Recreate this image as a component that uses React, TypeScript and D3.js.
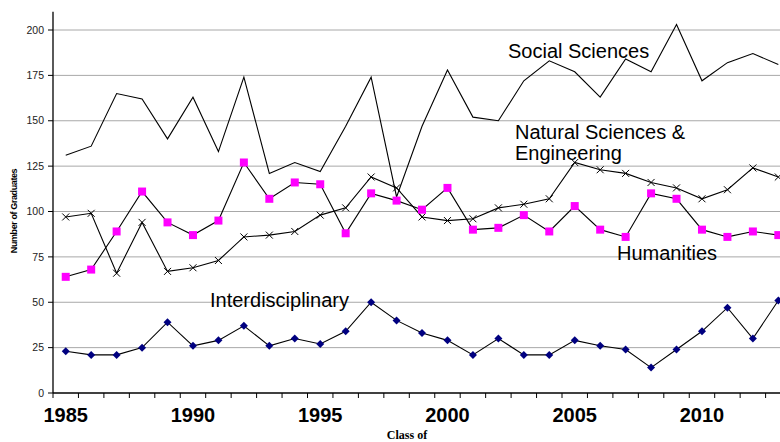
import React from "react";
import * as d3 from "d3";

const years = d3.range(1985, 2014);
const socialSciences = [131, 136, 165, 162, 140, 163, 133, 174, 121, 127, 122, 147, 174, 108, 147, 178, 152, 150, 172, 183, 177, 163, 184, 177, 203, 172, 182, 187, 181];
const naturalSciences = [97, 99, 66, 94, 67, 69, 73, 86, 87, 89, 98, 102, 119, 113, 97, 95, 96, 102, 104, 107, 127, 123, 121, 116, 113, 107, 112, 124, 119];
const humanities = [64, 68, 89, 111, 94, 87, 95, 127, 107, 116, 115, 88, 110, 106, 101, 113, 90, 91, 98, 89, 103, 90, 86, 110, 107, 90, 86, 89, 87];
const interdisciplinary = [23, 21, 21, 25, 39, 26, 29, 37, 26, 30, 27, 34, 50, 40, 33, 29, 21, 30, 21, 21, 29, 26, 24, 14, 24, 34, 47, 30, 51];
const yTicks = [0, 25, 50, 75, 100, 125, 150, 175, 200];
const xLabels = [1985, 1990, 1995, 2000, 2005, 2010];

const W = 780, H = 442;
const left = 53, bottom = 393;
const bw = 25.45;

export default function App() {
  const x = d3.scaleBand<number>().domain(years).range([left, left + years.length * bw]).padding(0);
  const y = d3.scaleLinear().domain([0, 210]).range([bottom, bottom - 210 * 1.815]);
  const cx = (yr: number) => (x(yr) as number) + x.bandwidth() / 2;
  const line = (vals: number[]) =>
    d3.line<number>().x((_, i) => cx(years[i])).y((v) => y(v))(vals) || "";
  const font = "'Liberation Sans', Arial, sans-serif";

  return (
    <svg width={W} height={H} style={{ position: "absolute", left: 0, top: 0 }}>
      <rect width={W} height={H} fill="#fff" />
      {yTicks.filter((t) => t > 0).map((t) => (
        <line key={t} x1={left} x2={W} y1={y(t)} y2={y(t)} stroke="#a8a8a8" strokeWidth={1} />
      ))}
      {/* y axis */}
      <line x1={left} x2={left} y1={y(210)} y2={bottom} stroke="#000" strokeWidth={1.3} />
      {yTicks.map((t) => (
        <g key={t}>
          <line x1={left - 5} x2={left} y1={y(t)} y2={y(t)} stroke="#000" />
          <text x={44} y={y(t)} dy="0.35em" textAnchor="end" fontFamily={font} fontSize={10.5} fill="#222">
            {t}
          </text>
        </g>
      ))}
      {/* x axis */}
      <line x1={left} x2={W} y1={bottom} y2={bottom} stroke="#000" strokeWidth={1.3} />
      {years.map((yr) => (
        <line key={yr} x1={x(yr) as number} x2={x(yr) as number} y1={bottom} y2={bottom + 5} stroke="#000" />
      ))}
      {xLabels.map((yr) => (
        <text key={yr} x={cx(yr)} y={422} textAnchor="middle" fontFamily={font} fontWeight="bold" fontSize={20} fill="#000">
          {yr}
        </text>
      ))}
      <text x={407} y={439} textAnchor="middle" fontFamily="'Liberation Serif', 'Times New Roman', serif" fontWeight="bold" fontSize={12}>
        Class of
      </text>
      <text transform="translate(17,211) rotate(-90)" textAnchor="middle" fontFamily={font} fontWeight="bold" fontSize={9} letterSpacing={-0.4}>
        Number of Graduates
      </text>

      {/* series lines */}
      <path d={line(socialSciences)} fill="none" stroke="#000" strokeWidth={1.1} />
      <path d={line(naturalSciences)} fill="none" stroke="#000" strokeWidth={1.1} />
      <path d={line(humanities)} fill="none" stroke="#000" strokeWidth={1.1} />
      <path d={line(interdisciplinary)} fill="none" stroke="#000" strokeWidth={1.1} />

      {naturalSciences.map((v, i) => {
        const px = cx(years[i]), py = y(v), s = 3.5;
        return (
          <path key={i} d={`M${px - s},${py - s}L${px + s},${py + s}M${px - s},${py + s}L${px + s},${py - s}`} stroke="#000" strokeWidth={1} />
        );
      })}
      {humanities.map((v, i) => (
        <rect key={i} x={cx(years[i]) - 4} y={y(v) - 4} width={8} height={8} fill="#ff00ff" />
      ))}
      {interdisciplinary.map((v, i) => {
        const px = cx(years[i]), py = y(v), s = 4;
        return <path key={i} d={`M${px},${py - s}L${px + s},${py}L${px},${py + s}L${px - s},${py}Z`} fill="#000080" />;
      })}

      {/* series labels */}
      <text x={508} y={58} fontFamily={font} fontSize={20} fill="#000">Social Sciences</text>
      <text x={515} y={139} fontFamily={font} fontSize={20} fill="#000">Natural Sciences &amp;</text>
      <text x={515} y={160} fontFamily={font} fontSize={20} fill="#000">Engineering</text>
      <text x={617} y={260} fontFamily={font} fontSize={20} fill="#000">Humanities</text>
      <text x={210} y={307} fontFamily={font} fontSize={20} fill="#000">Interdisciplinary</text>
    </svg>
  );
}
